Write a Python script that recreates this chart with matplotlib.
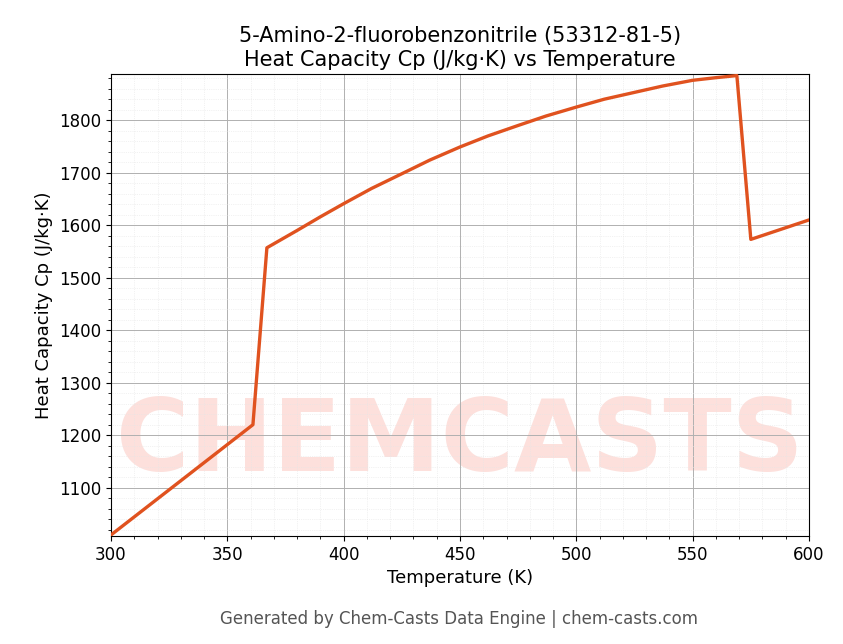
import matplotlib
matplotlib.use("Agg")
import matplotlib.pyplot as plt
from matplotlib.ticker import AutoMinorLocator

temps = [300, 361, 367, 380, 390, 400, 412, 425, 437, 450, 462, 475, 487, 500,
         512, 525, 537, 550, 560, 569, 575, 600]
cp = [1010, 1220, 1557, 1590, 1616, 1641, 1670, 1698, 1724, 1749, 1770, 1790, 1808, 1825,
      1840, 1853, 1865, 1876, 1881, 1885, 1573, 1610]

fig = plt.figure(figsize=(8.43, 6.44), dpi=100)
ax = fig.add_axes([111/843, 1-536/644, 698/843, 462/644])
ax.text(0.5, 0.2, "CHEMCASTS", transform=ax.transAxes, ha="center", va="center",
        fontsize=72, fontweight="bold", color="#fde0dc", zorder=0)
ax.plot(temps, cp, color="#e0521f", lw=2.4, zorder=3)
ax.set_xlim(300, 600)
ax.set_ylim(1008, 1888)
ax.xaxis.set_minor_locator(AutoMinorLocator(5))
ax.yaxis.set_minor_locator(AutoMinorLocator(5))
ax.grid(which="major", color="#b0b0b0", lw=0.7)
ax.grid(which="minor", color="#e6e6e6", lw=0.5, ls=":")
ax.tick_params(labelsize=12)
ax.set_xlabel("Temperature (K)", fontsize=13)
ax.set_ylabel("Heat Capacity Cp (J/kg·K)", fontsize=13)
ax.set_title("5-Amino-2-fluorobenzonitrile (53312-81-5)\nHeat Capacity Cp (J/kg·K) vs Temperature", fontsize=15)
fig.text(0.545, 1-619/644, "Generated by Chem-Casts Data Engine | chem-casts.com", ha="center",
         va="center", fontsize=12, color="#555555")
fig.savefig("out.png", dpi=100)
